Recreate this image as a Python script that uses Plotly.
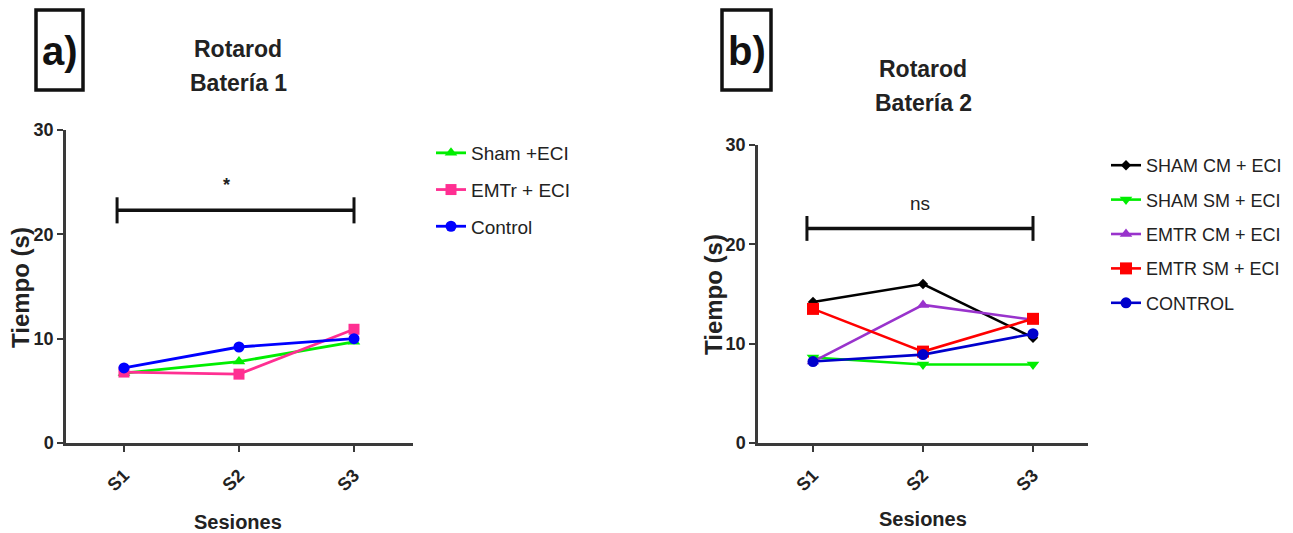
import plotly.graph_objects as go

W, H = 1293, 533

# ---------------- data ----------------
sessions = ["S1", "S2", "S3"]
y_ticks = [0, 10, 20, 30]

a_names = ["Sham +ECI", "EMTr + ECI", "Control"]
a_sham = [6.7, 7.8, 9.7]
a_emtr = [6.8, 6.6, 10.9]
a_control = [7.2, 9.2, 10.0]

b_names = ["SHAM CM + ECI", "SHAM SM + ECI", "EMTR CM + ECI", "EMTR SM + ECI", "CONTROL"]
b_sham_cm = [14.2, 16.0, 10.6]
b_sham_sm = [8.6, 7.9, 7.9]
b_emtr_cm = [8.2, 13.9, 12.4]
b_emtr_sm = [13.5, 9.2, 12.5]
b_control = [8.2, 8.9, 11.0]

# significance brackets: [x start (category index), x end, y level]
sig_a = [-0.06, 2.0, 22.3]
sig_a_label = "*"
sig_b = [-0.055, 2.0, 21.6]
sig_b_label = "ns"

# ---------------- styling helpers ----------------
def px(x):
    return x / W

def py(y):
    return 1 - y / H

FONT = "Liberation Sans, Arial, sans-serif"
AX = "#3a3a3a"
TXT = "#222222"

fig = go.Figure()

a_series = [a_sham, a_emtr, a_control]
a_colors = ["#00ee00", "#ff2f92", "#0000ff"]
a_symbols = ["triangle-up", "square", "circle"]
for name, vals, col, sym in zip(a_names, a_series, a_colors, a_symbols):
    fig.add_trace(go.Scatter(
        x=sessions, y=vals, name=name, mode="lines+markers",
        line=dict(color=col, width=2.8),
        marker=dict(symbol=sym, size=11, color=col),
        xaxis="x", yaxis="y", legend="legend", legendgroup=name,
    ))

b_series = [b_sham_cm, b_sham_sm, b_emtr_cm, b_emtr_sm, b_control]
b_colors = ["#000000", "#00ee00", "#9933cc", "#ff0000", "#0000cc"]
b_symbols = ["diamond", "triangle-down", "triangle-up", "square", "circle"]
b_sizes = [8, 11, 11, 12, 11]
for name, vals, col, sym, sz in zip(b_names, b_series, b_colors, b_symbols, b_sizes):
    fig.add_trace(go.Scatter(
        x=sessions, y=vals, name=name, mode="lines+markers",
        line=dict(color=col, width=2.6),
        marker=dict(symbol=sym, size=sz, color=col),
        xaxis="x2", yaxis="y2", legend="legend2", legendgroup=name,
    ))

xcommon = dict(
    type="category", categoryorder="array", categoryarray=sessions,
    showline=True, linecolor=AX, linewidth=2.5, ticks="outside", ticklen=6,
    tickwidth=2, tickcolor=AX, tickangle=-45, showgrid=False, zeroline=False,
    automargin=False, ticklabelstandoff=6,
    tickfont=dict(family=FONT, size=18, color=TXT, weight="bold"),
)
ycommon = dict(
    range=[0, 30], tickvals=y_ticks, showline=True, linecolor=AX, linewidth=2.5,
    ticks="outside", ticklen=6, tickwidth=2, tickcolor=AX, showgrid=False, zeroline=False,
    automargin=False,
    tickfont=dict(family=FONT, size=18, color=TXT, weight="bold"),
)

fig.update_layout(
    width=W, height=H, margin=dict(l=0, r=0, t=0, b=0, autoexpand=False),
    paper_bgcolor="white", plot_bgcolor="white",
    xaxis=dict(xcommon, domain=[px(66), px(413)], range=[-0.504, 2.513], anchor="y"),
    yaxis=dict(ycommon, domain=[py(443), py(130)], anchor="x"),
    xaxis2=dict(xcommon, domain=[px(758), px(1088)], range=[-0.5, 2.5], anchor="y2"),
    yaxis2=dict(ycommon, domain=[py(443), py(145)], anchor="x2"),
    legend=dict(x=px(431), y=py(134), xanchor="left", yanchor="top",
                font=dict(family=FONT, size=19, color=TXT),
                tracegroupgap=9, bgcolor="rgba(0,0,0,0)"),
    legend2=dict(x=px(1106), y=py(147), xanchor="left", yanchor="top",
                 font=dict(family=FONT, size=18, color=TXT),
                 tracegroupgap=8, bgcolor="rgba(0,0,0,0)"),
    showlegend=True,
)

shapes = []
annotations = []
for sig, lab, xr, yr, dx in [(sig_a, sig_a_label, "x", "y", -0.08), (sig_b, sig_b_label, "x2", "y2", 0.0)]:
    x0, x1, yv = sig
    shapes.append(dict(type="line", xref=xr, yref=yr, x0=x0, x1=x1, y0=yv, y1=yv,
                       line=dict(color="#111", width=3.5)))
    for xc in (x0, x1):
        shapes.append(dict(type="line", xref=xr, yref=yr, x0=xc, x1=xc, y0=yv - 1.25, y1=yv + 1.25,
                           line=dict(color="#111", width=3)))
    annotations.append(dict(xref=xr, yref=yr, x=(x0 + x1) / 2 + dx, y=yv + 1.3, text=lab,
                            showarrow=False, yanchor="bottom",
                            font=dict(family=FONT, size=19 if lab == "ns" else 18, color=TXT,
                                      weight="bold" if lab == "*" else "normal")))

# panel label boxes
for x0, x1, lab in [(36, 83, "a)"), (722, 771, "b)")]:
    shapes.append(dict(type="rect", xref="paper", yref="paper", x0=px(x0), x1=px(x1),
                       y0=py(90), y1=py(10), line=dict(color="#111", width=3.5)))
    annotations.append(dict(xref="paper", yref="paper", x=px((x0 + x1) / 2), y=py(51), text=lab,
                            showarrow=False, xanchor="center", yanchor="middle",
                            font=dict(family=FONT, size=40, color="#111", weight="bold")))

# titles (one annotation per line to control the line spacing)
title_lines = [(238, 49, "Rotarod"), (238, 83, "Batería 1"),
               (923, 69, "Rotarod"), (923, 103, "Batería 2")]
for xc, yc, txt in title_lines:
    annotations.append(dict(xref="paper", yref="paper", x=px(xc), y=py(yc), text=txt,
                            showarrow=False, xanchor="center", yanchor="middle",
                            font=dict(family=FONT, size=23, color=TXT, weight="bold")))

# axis titles
for xc, yc, txt, ang, sz in [(238, 522, "Sesiones", 0, 20), (923, 519, "Sesiones", 0, 20),
                             (20, 288, "Tiempo (s)", -90, 24), (713, 295, "Tiempo (s)", -90, 24)]:
    annotations.append(dict(xref="paper", yref="paper", x=px(xc), y=py(yc), text=txt,
                            showarrow=False, xanchor="center", yanchor="middle", textangle=ang,
                            font=dict(family=FONT, size=sz, color=TXT, weight="bold")))

fig.update_layout(shapes=shapes, annotations=annotations)
fig.write_html("out.html")
